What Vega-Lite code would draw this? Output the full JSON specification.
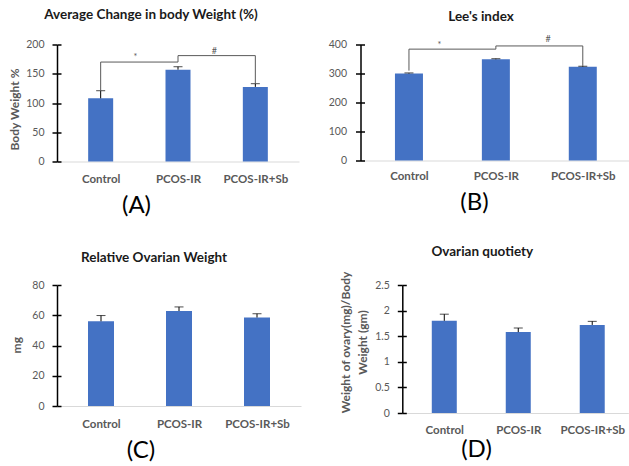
{
  "$schema": "https://vega.github.io/schema/vega-lite/v6.json",
  "autosize": {"type": "none"},
  "padding": {"left": 57, "top": 44.5, "right": 572, "bottom": 421.5},
  "background": "white",
  "config": {
    "view": {"stroke": null},
    "font": "Lato",
    "axisX": {"domainColor": "#D9D9D9", "domainWidth": 1, "ticks": false, "grid": false, "labelColor": "#595959", "labelFontSize": 11.5, "labelFontWeight": "bold", "labelPadding": 12, "labelFlush": false, "labelOverlap": false, "titleFontSize": 24, "titleFontWeight": "normal", "titleColor": "#000000", "titleBaseline": "middle", "titleAlign": "center"},
    "axisY": {"domainColor": "#000000", "domainWidth": 1.5, "tickColor": "#000000", "tickWidth": 1.5, "tickSize": 5, "grid": false, "labelColor": "#595959", "labelFontSize": 10.5, "labelPadding": 8, "titleColor": "#595959", "titleFontSize": 12, "titleFontWeight": "bold", "titleBaseline": "middle", "titleAlign": "center"},
    "title": {"fontSize": 13.5, "fontWeight": "bold", "color": "#1a1a1a", "anchor": "middle", "frame": "group"}
  },
  "datasets": {
    "barsA": [
      {"group": "Control", "i": 0, "value": 108, "upper": 121},
      {"group": "PCOS-IR", "i": 1, "value": 157, "upper": 162},
      {"group": "PCOS-IR+Sb", "i": 2, "value": 127.5, "upper": 133}
    ],
    "bracketA": [
      {"i": 0, "y": 120, "k": 1},
      {"i": 0, "y": 170, "k": 2},
      {"i": 1, "y": 170, "k": 3},
      {"i": 1, "y": 181, "k": 4},
      {"i": 2, "y": 181, "k": 5},
      {"i": 2, "y": 134, "k": 6}
    ],
    "sigA": [
      {"i": 0.45, "y": 178, "label": "*"},
      {"i": 1.47, "y": 189, "label": "#"}
    ],
    "barsB": [
      {"group": "Control", "i": 0, "value": 300, "upper": 302},
      {"group": "PCOS-IR", "i": 1, "value": 349, "upper": 351},
      {"group": "PCOS-IR+Sb", "i": 2, "value": 323, "upper": 325}
    ],
    "bracketB": [
      {"i": 0, "y": 310, "k": 1},
      {"i": 0, "y": 384, "k": 2},
      {"i": 1, "y": 384, "k": 3},
      {"i": 1, "y": 395, "k": 4},
      {"i": 2, "y": 395, "k": 5},
      {"i": 2, "y": 326, "k": 6}
    ],
    "sigB": [
      {"i": 0.35, "y": 397, "label": "*"},
      {"i": 1.6, "y": 419, "label": "#"}
    ],
    "barsC": [
      {"group": "Control", "i": 0, "value": 56, "upper": 59.8},
      {"group": "PCOS-IR", "i": 1, "value": 62.8, "upper": 65.5},
      {"group": "PCOS-IR+Sb", "i": 2, "value": 58.5, "upper": 61}
    ],
    "barsD": [
      {"group": "Control", "i": 0, "value": 1.8, "upper": 1.93},
      {"group": "PCOS-IR", "i": 1, "value": 1.58, "upper": 1.66},
      {"group": "PCOS-IR+Sb", "i": 2, "value": 1.72, "upper": 1.79}
    ]
  },
  "bounds": "flush",
  "spacing": 240.5,
  "vconcat": [
    {
      "bounds": "flush",
      "spacing": 61.5,
      "hconcat": [
        {
          "width": 242, "height": 117,
          "title": {"text": "Average Change in body Weight (%)", "dx": -27, "offset": 18},
          "resolve": {"axis": {"y": "independent"}},
          "layer": [
            {"data": {"name": "barsA"}, "mark": {"type": "bar", "orient": "vertical", "width": 25, "color": "#4472C4"},
             "encoding": {
               "x": {"field": "i", "type": "quantitative", "scale": {"domain": [-0.5, 2.5], "nice": false, "zero": false},
                     "axis": {"values": [0, 1, 2], "labelExpr": "datum.value == 0 ? 'Control' : datum.value == 1 ? 'PCOS-IR' : 'PCOS-IR+Sb'", "title": "(A)", "titleX": 79, "titleY": 43.5}},
               "y": {"field": "value", "type": "quantitative", "scale": {"domain": [0, 200], "nice": false},
                     "axis": {"values": [0, 50, 100, 150, 200], "title": "Body Weight %", "titleX": -43, "titleY": 64.5}}}},
            {"data": {"name": "barsA"}, "mark": {"type": "rule", "color": "#000000", "strokeWidth": 1},
             "encoding": {
               "x": {"field": "i", "type": "quantitative"},
               "y": {"field": "value", "type": "quantitative", "axis": {"orient": "left", "values": [0, 50, 100, 150, 200], "labels": false, "domain": false, "tickSize": -4, "title": null}},
               "y2": {"field": "upper"}}},
            {"data": {"name": "barsA"}, "mark": {"type": "tick", "orient": "horizontal", "size": 9, "thickness": 1, "color": "#000000"},
             "encoding": {"x": {"field": "i", "type": "quantitative"}, "y": {"field": "upper", "type": "quantitative", "axis": null}}},
            {"data": {"name": "bracketA"}, "mark": {"type": "line", "color": "#595959", "strokeWidth": 1},
             "encoding": {"x": {"field": "i", "type": "quantitative"}, "y": {"field": "y", "type": "quantitative", "axis": null}, "order": {"field": "k", "type": "quantitative"}}},
            {"data": {"name": "sigA"}, "mark": {"type": "text", "color": "#595959", "fontSize": 9, "baseline": "middle"},
             "encoding": {"x": {"field": "i", "type": "quantitative"}, "y": {"field": "y", "type": "quantitative", "axis": null}, "text": {"field": "label"}}}
          ]
        },
        {
          "width": 269, "height": 116,
          "title": {"text": "Lee's index", "dx": -14, "offset": 11},
          "resolve": {"axis": {"y": "independent"}},
          "layer": [
            {"data": {"name": "barsB"}, "mark": {"type": "bar", "orient": "vertical", "width": 28, "color": "#4472C4"},
             "encoding": {
               "x": {"field": "i", "type": "quantitative", "scale": {"domain": [-0.5, 2.48], "nice": false, "zero": false},
                     "axis": {"values": [0, 1, 2], "labelExpr": "datum.value == 0 ? 'Control' : datum.value == 1 ? 'PCOS-IR' : 'PCOS-IR+Sb'", "title": "(B)", "titleX": 113.5, "titleY": 42, "labelPadding": 10}},
               "y": {"field": "value", "type": "quantitative", "scale": {"domain": [0, 400], "nice": false},
                     "axis": {"values": [0, 100, 200, 300, 400], "title": null, "labelPadding": 9}}}},
            {"data": {"name": "barsB"}, "mark": {"type": "rule", "color": "#000000", "strokeWidth": 1},
             "encoding": {
               "x": {"field": "i", "type": "quantitative"},
               "y": {"field": "value", "type": "quantitative", "axis": {"orient": "left", "values": [0, 100, 200, 300, 400], "labels": false, "domain": false, "tickSize": -4, "title": null}},
               "y2": {"field": "upper"}}},
            {"data": {"name": "barsB"}, "mark": {"type": "tick", "orient": "horizontal", "size": 9, "thickness": 1, "color": "#000000"},
             "encoding": {"x": {"field": "i", "type": "quantitative"}, "y": {"field": "upper", "type": "quantitative", "axis": null}}},
            {"data": {"name": "bracketB"}, "mark": {"type": "line", "color": "#595959", "strokeWidth": 1},
             "encoding": {"x": {"field": "i", "type": "quantitative"}, "y": {"field": "y", "type": "quantitative", "axis": null}, "order": {"field": "k", "type": "quantitative"}}},
            {"data": {"name": "sigB"}, "mark": {"type": "text", "color": "#595959", "fontSize": 9, "baseline": "middle"},
             "encoding": {"x": {"field": "i", "type": "quantitative"}, "y": {"field": "y", "type": "quantitative", "axis": null}, "text": {"field": "label"}}}
          ]
        }
      ]
    },
    {
      "bounds": "flush",
      "spacing": 101.3,
      "hconcat": [
        {
          "width": 244, "height": 121,
          "title": {"text": "Relative Ovarian Weight", "dx": -25, "offset": 16},
          "resolve": {"axis": {"y": "independent"}},
          "layer": [
            {"data": {"name": "barsC"}, "mark": {"type": "bar", "orient": "vertical", "width": 26, "color": "#4472C4"},
             "encoding": {
               "x": {"field": "i", "type": "quantitative", "scale": {"domain": [-0.5, 2.5], "nice": false, "zero": false},
                     "axis": {"values": [0, 1, 2], "labelExpr": "datum.value == 0 ? 'Control' : datum.value == 1 ? 'PCOS-IR' : 'PCOS-IR+Sb'", "title": "(C)", "titleX": 83.5, "titleY": 44.5}},
               "y": {"field": "value", "type": "quantitative", "scale": {"domain": [0, 80], "nice": false},
                     "axis": {"values": [0, 20, 40, 60, 80], "title": "mg", "titleX": -41, "titleY": 59.7}}}},
            {"data": {"name": "barsC"}, "mark": {"type": "rule", "color": "#000000", "strokeWidth": 1},
             "encoding": {
               "x": {"field": "i", "type": "quantitative"},
               "y": {"field": "value", "type": "quantitative", "axis": {"orient": "left", "values": [0, 20, 40, 60, 80], "labels": false, "domain": false, "tickSize": -4, "title": null}},
               "y2": {"field": "upper"}}},
            {"data": {"name": "barsC"}, "mark": {"type": "tick", "orient": "horizontal", "size": 9, "thickness": 1, "color": "#000000"},
             "encoding": {"x": {"field": "i", "type": "quantitative"}, "y": {"field": "upper", "type": "quantitative", "axis": null}}}
          ]
        },
        {
          "width": 226, "height": 128,
          "title": {"text": "Ovarian quotiety", "dx": -33, "offset": 13},
          "resolve": {"axis": {"y": "independent"}},
          "layer": [
            {"data": {"name": "barsD"}, "mark": {"type": "bar", "orient": "vertical", "width": 25, "color": "#4472C4"},
             "encoding": {
               "x": {"field": "i", "type": "quantitative", "scale": {"domain": [-0.5, 2.42], "nice": false, "zero": false},
                     "axis": {"values": [0, 1, 2], "labelExpr": "datum.value == 0 ? 'Control' : datum.value == 1 ? 'PCOS-IR' : 'PCOS-IR+Sb'", "title": "(D)", "titleX": 73.7, "titleY": 36, "labelPadding": 11}},
               "y": {"field": "value", "type": "quantitative", "scale": {"domain": [0, 2.5], "nice": false},
                     "axis": {"values": [0, 0.5, 1, 1.5, 2, 2.5], "labelExpr": "toString(datum.value)", "title": ["Weight of ovary(mg)/Body", "Weight  (gm)"], "titleLineHeight": 16.5, "titleX": -56.8, "titleY": 57}}}},
            {"data": {"name": "barsD"}, "mark": {"type": "rule", "color": "#000000", "strokeWidth": 1},
             "encoding": {
               "x": {"field": "i", "type": "quantitative"},
               "y": {"field": "value", "type": "quantitative", "axis": {"orient": "left", "values": [0, 0.5, 1, 1.5, 2, 2.5], "labels": false, "domain": false, "tickSize": -4, "title": null}},
               "y2": {"field": "upper"}}},
            {"data": {"name": "barsD"}, "mark": {"type": "tick", "orient": "horizontal", "size": 9, "thickness": 1, "color": "#000000"},
             "encoding": {"x": {"field": "i", "type": "quantitative"}, "y": {"field": "upper", "type": "quantitative", "axis": null}}}
          ]
        }
      ]
    }
  ]
}
